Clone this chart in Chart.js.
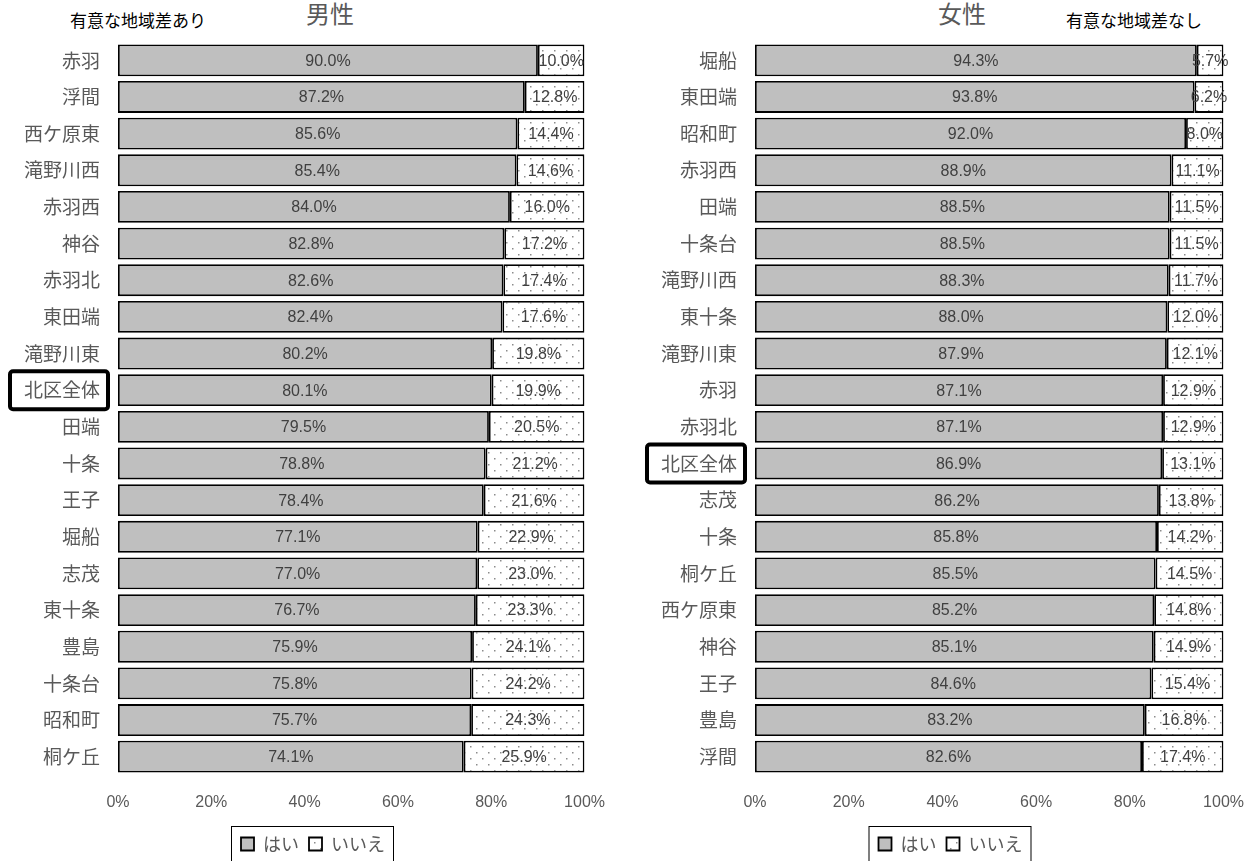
<!DOCTYPE html>
<html lang="ja">
<head>
  <meta charset="UTF-8">
  <title>地域別 はい／いいえ</title>
  <script src="https://cdn.jsdelivr.net/npm/chart.js"></script>
  <style>
    html, body {
      margin: 0;
      padding: 0;
      background: #fff;
      overflow: hidden;
      width: 1257px;
      height: 861px;
    }
    body {
      position: relative;
      font-family: "Noto Sans CJK JP", sans-serif;
    }
    .wrap {
      position: absolute;
      top: 0;
      height: 863px;
    }
    #leftWrap { left: 0; width: 623px; }
    #rightWrap { left: 630px; width: 632px; }
    .note {
      position: absolute;
      top: 8px;
      font-size: 17px;
      color: #000;
      line-height: 24px;
    }
    .sex {
      position: absolute;
      top: -2px;
      font-size: 24px;
      color: #595959;
      line-height: 30px;
    }
  </style>
</head>
<body>
  <div class="note" style="left: 70px;">有意な地域差あり</div>
  <div class="sex" style="left: 306px;">男性</div>
  <div class="sex" style="left: 938px;">女性</div>
  <div class="note" style="left: 1066px;">有意な地域差なし</div>

  <div class="wrap" id="leftWrap"><canvas id="maleChart"></canvas></div>
  <div class="wrap" id="rightWrap"><canvas id="femaleChart"></canvas></div>

  <script>
    // 男性
    const maleLabels = ["赤羽", "浮間", "西ケ原東", "滝野川西", "赤羽西", "神谷", "赤羽北", "東田端", "滝野川東", "北区全体",
                        "田端", "十条", "王子", "堀船", "志茂", "東十条", "豊島", "十条台", "昭和町", "桐ケ丘"];
    const maleYes = [90.0, 87.2, 85.6, 85.4, 84.0, 82.8, 82.6, 82.4, 80.2, 80.1,
                     79.5, 78.8, 78.4, 77.1, 77.0, 76.7, 75.9, 75.8, 75.7, 74.1];
    const maleNo = [10.0, 12.8, 14.4, 14.6, 16.0, 17.2, 17.4, 17.6, 19.8, 19.9,
                    20.5, 21.2, 21.6, 22.9, 23.0, 23.3, 24.1, 24.2, 24.3, 25.9];

    // 女性
    const femaleLabels = ["堀船", "東田端", "昭和町", "赤羽西", "田端", "十条台", "滝野川西", "東十条", "滝野川東", "赤羽",
                          "赤羽北", "北区全体", "志茂", "十条", "桐ケ丘", "西ケ原東", "神谷", "王子", "豊島", "浮間"];
    const femaleYes = [94.3, 93.8, 92.0, 88.9, 88.5, 88.5, 88.3, 88.0, 87.9, 87.1,
                       87.1, 86.9, 86.2, 85.8, 85.5, 85.2, 85.1, 84.6, 83.2, 82.6];
    const femaleNo = [5.7, 6.2, 8.0, 11.1, 11.5, 11.5, 11.7, 12.0, 12.1, 12.9,
                      12.9, 13.1, 13.8, 14.2, 14.5, 14.8, 14.9, 15.4, 16.8, 17.4];

    const seriesNames = ["はい", "いいえ"];
    const highlightLabel = "北区全体";

    const gray = "#595959";
    const cjk = "'Noto Sans CJK JP', sans-serif";

    // 点々模様（いいえ）
    function dotPattern() {
      const c = document.createElement("canvas");
      c.width = 12;
      c.height = 12;
      const g = c.getContext("2d");
      g.fillStyle = "#fff";
      g.fillRect(0, 0, 12, 12);
      g.fillStyle = "#8c8c8c";
      g.fillRect(2, 2, 1.5, 1.5);
      g.fillRect(8, 8, 1.5, 1.5);
      return g.createPattern(c, "repeat");
    }
    const dots = dotPattern();

    const valueLabels = {
      id: "valueLabels",
      afterDatasetsDraw(chart) {
        const ctx = chart.ctx;
        ctx.save();
        ctx.font = "16px 'Liberation Sans', sans-serif";
        ctx.fillStyle = "#404040";
        ctx.textAlign = "center";
        ctx.textBaseline = "middle";
        chart.data.datasets.forEach((ds, i) => {
          chart.getDatasetMeta(i).data.forEach((bar, j) => {
            const cx = (bar.x + bar.base) / 2;
            ctx.fillText(ds.data[j].toFixed(1) + "%", cx, bar.y + 1);
          });
        });
        ctx.restore();
      }
    };

    // 凡例を少し右へずらす
    const legendShift = {
      id: "legendShift",
      afterLayout(chart, args, opts) {
        chart.legend.left += opts.dx;
        chart.legend.right += opts.dx;
      }
    };

    const frames = {
      id: "frames",
      afterDraw(chart) {
        const ctx = chart.ctx;
        const y = chart.scales.y;
        const idx = chart.data.labels.indexOf(highlightLabel);
        ctx.save();
        // 北区全体の枠
        if (idx >= 0) {
          ctx.font = "19px " + cjk;
          const w = ctx.measureText(highlightLabel).width;
          const right = y.right - 18;
          const cy = y.getPixelForValue(idx);
          ctx.lineWidth = 4;
          ctx.strokeStyle = "#000";
          ctx.beginPath();
          ctx.roundRect(right - w - 14, cy - 19, w + 22, 38, 3);
          ctx.stroke();
        }
        // 凡例の枠
        const boxes = chart.legend.legendHitBoxes;
        if (boxes && boxes.length) {
          const l = Math.min(...boxes.map(b => b.left)) - 10;
          const r = Math.max(...boxes.map(b => b.left + b.width)) + 8;
          const t = boxes[0].top - 9;
          ctx.lineWidth = 1;
          ctx.strokeStyle = "#000";
          ctx.strokeRect(l + 0.5, t + 0.5, r - l, 40);
        }
        ctx.restore();
      }
    };

    function makeChart(id, labels, yes, no, axisWidth, padRight, dx) {
      return new Chart(document.getElementById(id), {
        type: "bar",
        data: {
          labels: labels,
          datasets: [
            {
              label: seriesNames[0],
              data: yes,
              backgroundColor: "#bfbfbf",
              borderColor: "#000",
              borderWidth: 1.8,
              borderSkipped: false,
              barPercentage: 0.87,
              categoryPercentage: 1.0
            },
            {
              label: seriesNames[1],
              data: no,
              backgroundColor: dots,
              borderColor: "#000",
              borderWidth: 1.8,
              borderSkipped: false,
              barPercentage: 0.87,
              categoryPercentage: 1.0
            }
          ]
        },
        options: {
          indexAxis: "y",
          responsive: true,
          maintainAspectRatio: false,
          animation: false,
          layout: { padding: { top: 42, right: padRight, left: 0, bottom: 0 } },
          scales: {
            x: {
              stacked: true,
              min: 0,
              max: 100,
              grid: { display: false, drawTicks: false },
              border: { display: false },
              ticks: {
                stepSize: 20,
                color: gray,
                padding: 18,
                font: { size: 16, family: "'Liberation Sans', sans-serif" },
                callback: v => v + "%"
              },
              afterFit(s) { s.height = 50; }
            },
            y: {
              stacked: true,
              grid: { display: false, drawTicks: false },
              border: { display: false },
              ticks: {
                color: gray,
                padding: 18,
                font: { size: 19, family: cjk }
              },
              afterFit(s) { s.width = axisWidth; }
            }
          },
          plugins: {
            legend: {
              position: "bottom",
              labels: {
                boxWidth: 13,
                boxHeight: 13,
                padding: 10,
                color: gray,
                font: { size: 18, family: cjk }
              }
            },
            legendShift: { dx: dx },
            tooltip: { enabled: false }
          }
        },
        plugins: [valueLabels, legendShift, frames]
      });
    }

    makeChart("maleChart", maleLabels, maleYes, maleNo, 118, 33, 18);
    makeChart("femaleChart", femaleLabels, femaleYes, femaleNo, 125, 31, 20);
  </script>
</body>
</html>
